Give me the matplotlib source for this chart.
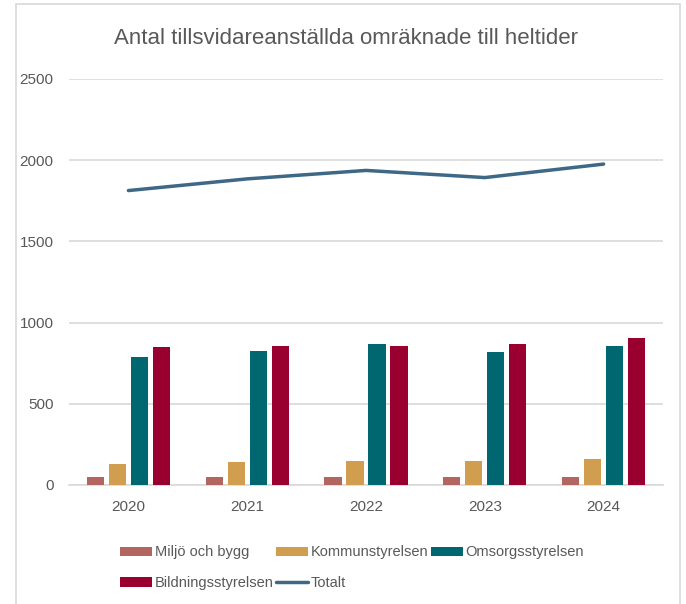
import matplotlib
matplotlib.use("Agg")
import matplotlib.pyplot as plt
import numpy as np
from matplotlib.patches import Rectangle

years = ["2020", "2021", "2022", "2023", "2024"]
miljo = [51, 51, 51, 51, 51]
kommun = [129, 140, 148, 148, 158]
omsorg = [787, 827, 867, 817, 858]
bildning = [848, 858, 858, 867, 906]
totalt = [1813, 1885, 1937, 1893, 1976]

series_names = ["Miljö och bygg", "Kommunstyrelsen", "Omsorgsstyrelsen", "Bildningsstyrelsen"]
series_vals = [miljo, kommun, omsorg, bildning]
colors = ["#B3655F", "#D19D4E", "#00666F", "#99002F"]
line_color = "#3E6886"
text_color = "#595959"
grid_color = "#D9D9D9"

plt.rcParams['font.family'] = ['Liberation Sans', 'DejaVu Sans']

fig = plt.figure(figsize=(6.86, 6.04), dpi=100)
ax = fig.add_axes([69/686, 1-485/604, (663-69)/686, (485-79)/604])

x = np.arange(len(years))
step = 0.185
width = 0.145
bars = []
for i, (name, vals, c) in enumerate(zip(series_names, series_vals, colors)):
    b = ax.bar(x + (i - 1.5) * step, vals, width=width, color=c, label=name, zorder=3)
    bars.append(b)
ln, = ax.plot(x, totalt, color=line_color, linewidth=2.5, label="Totalt", zorder=4,
              solid_capstyle='round')

ax.set_xlim(-0.5, len(years) - 0.5)
ax.set_ylim(0, 2500)
ax.set_yticks([0, 500, 1000, 1500, 2000, 2500])
ax.set_xticks(x)
ax.set_xticklabels(years)
ax.yaxis.grid(True, color=grid_color, linewidth=1.2, zorder=0)
ax.set_axisbelow(True)
for s in ["top", "right", "left"]:
    ax.spines[s].set_visible(False)
ax.spines["bottom"].set_color(grid_color)
ax.spines["bottom"].set_linewidth(1.2)
ax.tick_params(axis='both', length=0, colors=text_color, labelsize=11)
ax.tick_params(axis='x', pad=11)
ax.tick_params(axis='y', pad=11)

fig.text(346/686, 1-38/604, "Antal tillsvidareanställda omräknade till heltider",
         ha='center', va='center', fontsize=16, color=text_color)

handles = [bars[0], bars[3], bars[1], ln, bars[2]]
labels = [series_names[0], series_names[3], series_names[1], "Totalt", series_names[2]]
leg = fig.legend(handles, labels, ncol=3, loc='upper left',
                 bbox_to_anchor=(113/686, 1-538/604), frameon=False,
                 fontsize=10.5, labelcolor=text_color, handlelength=2.15,
                 handleheight=0.6, handletextpad=0.2, columnspacing=0.2,
                 labelspacing=1.15, borderpad=0)

fig.patches.append(Rectangle((16/686, -0.05), (680-16)/686, 1.05 - 4/604,
                             transform=fig.transFigure, fill=False,
                             edgecolor=grid_color, linewidth=1.2))

fig.savefig("out.png", dpi=100)
